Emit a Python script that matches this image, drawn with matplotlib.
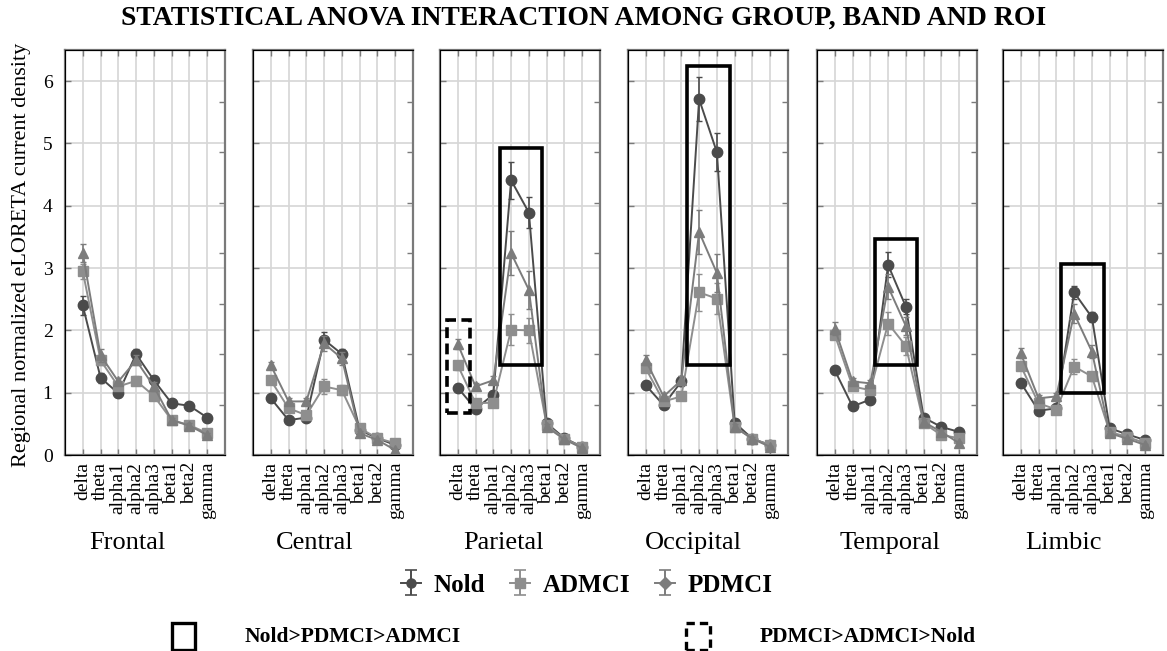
import matplotlib
matplotlib.use('Agg')
import matplotlib.pyplot as plt
from matplotlib.patches import Rectangle

plt.rcParams['font.family'] = ['Liberation Serif', 'DejaVu Serif']

bands = ['delta', 'theta', 'alpha1', 'alpha2', 'alpha3', 'beta1', 'beta2', 'gamma']
regions = ['Frontal', 'Central', 'Parietal', 'Occipital', 'Temporal', 'Limbic']
groups = ['Nold', 'ADMCI', 'PDMCI']

# mean values per region and group
frontal_nold = [2.40, 1.24, 0.99, 1.62, 1.20, 0.83, 0.79, 0.60]
frontal_admci = [2.95, 1.52, 1.10, 1.19, 0.95, 0.56, 0.48, 0.35]
frontal_pdmci = [3.24, 1.60, 1.18, 1.52, 1.10, 0.56, 0.47, 0.32]
central_nold = [0.91, 0.56, 0.60, 1.85, 1.62, 0.40, 0.27, 0.16]
central_admci = [1.20, 0.75, 0.64, 1.10, 1.04, 0.43, 0.27, 0.19]
central_pdmci = [1.44, 0.86, 0.86, 1.79, 1.55, 0.35, 0.24, 0.08]
parietal_nold = [1.08, 0.74, 0.97, 4.41, 3.89, 0.51, 0.27, 0.13]
parietal_admci = [1.44, 0.83, 0.84, 2.01, 2.00, 0.48, 0.26, 0.13]
parietal_pdmci = [1.78, 1.10, 1.20, 3.24, 2.65, 0.45, 0.25, 0.11]
occipital_nold = [1.12, 0.80, 1.18, 5.71, 4.86, 0.52, 0.26, 0.16]
occipital_admci = [1.39, 0.86, 0.94, 2.61, 2.51, 0.45, 0.26, 0.16]
occipital_pdmci = [1.52, 0.94, 1.20, 3.58, 2.92, 0.45, 0.26, 0.13]
temporal_nold = [1.36, 0.78, 0.89, 3.05, 2.38, 0.60, 0.45, 0.37]
temporal_admci = [1.93, 1.10, 1.04, 2.11, 1.75, 0.51, 0.32, 0.27]
temporal_pdmci = [2.03, 1.18, 1.15, 2.70, 2.07, 0.53, 0.37, 0.19]
limbic_nold = [1.16, 0.71, 0.75, 2.61, 2.21, 0.43, 0.33, 0.24]
limbic_admci = [1.43, 0.83, 0.73, 1.42, 1.26, 0.37, 0.29, 0.19]
limbic_pdmci = [1.63, 0.91, 0.94, 2.27, 1.66, 0.35, 0.26, 0.16]

# error bar half-lengths
frontal_nold_err = [0.15, 0.08, 0.06, 0.08, 0.07, 0.05, 0.05, 0.04]
frontal_admci_err = [0.12, 0.08, 0.06, 0.07, 0.06, 0.04, 0.04, 0.03]
frontal_pdmci_err = [0.15, 0.10, 0.06, 0.08, 0.07, 0.04, 0.04, 0.03]
central_nold_err = [0.06, 0.04, 0.04, 0.12, 0.08, 0.04, 0.03, 0.02]
central_admci_err = [0.06, 0.04, 0.05, 0.12, 0.08, 0.03, 0.03, 0.02]
central_pdmci_err = [0.06, 0.05, 0.05, 0.12, 0.10, 0.03, 0.03, 0.02]
parietal_nold_err = [0.06, 0.04, 0.06, 0.30, 0.25, 0.04, 0.03, 0.02]
parietal_admci_err = [0.07, 0.05, 0.05, 0.25, 0.20, 0.04, 0.03, 0.02]
parietal_pdmci_err = [0.08, 0.05, 0.06, 0.35, 0.30, 0.04, 0.03, 0.02]
occipital_nold_err = [0.06, 0.04, 0.08, 0.35, 0.30, 0.05, 0.03, 0.02]
occipital_admci_err = [0.06, 0.05, 0.06, 0.30, 0.25, 0.04, 0.03, 0.02]
occipital_pdmci_err = [0.08, 0.05, 0.07, 0.35, 0.30, 0.04, 0.03, 0.02]
temporal_nold_err = [0.06, 0.04, 0.05, 0.20, 0.12, 0.04, 0.03, 0.02]
temporal_admci_err = [0.07, 0.05, 0.05, 0.18, 0.15, 0.04, 0.03, 0.02]
temporal_pdmci_err = [0.10, 0.06, 0.06, 0.20, 0.15, 0.04, 0.03, 0.02]
limbic_nold_err = [0.05, 0.04, 0.04, 0.10, 0.08, 0.03, 0.03, 0.02]
limbic_admci_err = [0.06, 0.04, 0.04, 0.12, 0.08, 0.03, 0.03, 0.02]
limbic_pdmci_err = [0.08, 0.05, 0.05, 0.15, 0.10, 0.03, 0.03, 0.02]

values = {
    'Frontal': (frontal_nold, frontal_admci, frontal_pdmci),
    'Central': (central_nold, central_admci, central_pdmci),
    'Parietal': (parietal_nold, parietal_admci, parietal_pdmci),
    'Occipital': (occipital_nold, occipital_admci, occipital_pdmci),
    'Temporal': (temporal_nold, temporal_admci, temporal_pdmci),
    'Limbic': (limbic_nold, limbic_admci, limbic_pdmci),
}
errors = {
    'Frontal': (frontal_nold_err, frontal_admci_err, frontal_pdmci_err),
    'Central': (central_nold_err, central_admci_err, central_pdmci_err),
    'Parietal': (parietal_nold_err, parietal_admci_err, parietal_pdmci_err),
    'Occipital': (occipital_nold_err, occipital_admci_err, occipital_pdmci_err),
    'Temporal': (temporal_nold_err, temporal_admci_err, temporal_pdmci_err),
    'Limbic': (limbic_nold_err, limbic_admci_err, limbic_pdmci_err),
}

# highlight boxes (x0, y0, x1, y1) in data units
solid_boxes = {
    'Parietal': (2.38, 1.44, 4.74, 4.92),
    'Occipital': (2.34, 1.44, 4.72, 6.24),
    'Temporal': (2.28, 1.44, 4.64, 3.47),
    'Limbic': (2.25, 1.00, 4.66, 3.06),
}
dashed_boxes = {
    'Parietal': (-0.60, 0.68, 0.68, 2.17),
}

styles = [
    dict(color='#4b4b4b', marker='o', ms=7.5),
    dict(color='#8e8e8e', marker='s', ms=7),
    dict(color='#7c7c7c', marker='^', ms=7.5),
]

W, H = 1167, 651
fig = plt.figure(figsize=(W / 100, H / 100), dpi=100)
fig.patch.set_facecolor('white')

lefts = [65, 253, 440, 628, 817, 1003]
label_x = [127, 315, 503, 693, 890, 1063]
x = list(range(len(bands)))

for i, reg in enumerate(regions):
    ax = fig.add_axes([lefts[i] / W, 1 - 455 / H, 160 / W, 405 / H])
    ax.set_xlim(-1, 8)
    ax.set_ylim(0, 6.5)
    ax.set_xticks(x)
    ax.set_xticklabels(bands, rotation=90, fontsize=14)
    ax.set_yticks(range(7))
    ax.grid(True, color='#d6d6d6', lw=1.2)
    ax.set_axisbelow(True)
    for s in ax.spines.values():
        s.set_color('#7a7a7a')
        s.set_linewidth(1.6)
    ax.tick_params(axis='x', direction='in', length=4, pad=5, top=True,
                   color='#7a7a7a', width=1)
    ax.tick_params(axis='y', direction='in', length=4, pad=9, labelsize=14,
                   color='#7a7a7a', width=1, labelleft=(i == 0))
    tw = ax.twinx()
    tw.set_ylim(0, 6.5 / 0.81)
    tw.set_yticks(range(1, 8))
    tw.tick_params(axis='y', direction='in', length=4, labelright=False,
                   color='#7a7a7a', width=1)
    tw.spines['right'].set_visible(False)
    for g in range(3):
        st = styles[g]
        ax.errorbar(x, values[reg][g], yerr=errors[reg][g], color=st['color'],
                    marker=st['marker'], ms=st['ms'], lw=1.4, elinewidth=1.2,
                    capsize=2, capthick=1, zorder=3 + g)
    if reg in solid_boxes:
        x0, y0, x1, y1 = solid_boxes[reg]
        ax.add_patch(Rectangle((x0, y0), x1 - x0, y1 - y0, fill=False,
                               ec='black', lw=2.6, zorder=10))
    if reg in dashed_boxes:
        x0, y0, x1, y1 = dashed_boxes[reg]
        ax.add_patch(Rectangle((x0, y0), x1 - x0, y1 - y0, fill=False,
                               ec='black', lw=2.6, ls=(0, (3, 1.5)), zorder=10))
    fig.text(label_x[i] / W, 1 - 543 / H, reg, fontsize=19, ha='center', va='center')

fig.text(0.5, 1 - 18 / H, 'STATISTICAL ANOVA INTERACTION AMONG GROUP, BAND AND ROI',
         fontsize=20, fontweight='bold', ha='center', va='center')
fig.text(22 / W, 1 - 255 / H, 'Regional normalized eLORETA current density',
         rotation=90, fontsize=16, ha='center', va='center')

# group legend (proxy artists on an axes placed outside the figure)
hax = fig.add_axes([-1, -1, 0.01, 0.01])
hax.set_axis_off()
leg_markers = ['o', 's', 'D']
handles = []
for g in range(3):
    h = hax.errorbar([0], [0], yerr=[1], color=styles[g]['color'], marker=leg_markers[g],
                     ms=6.5, lw=1.4, capsize=4.5, capthick=1.2)
    handles.append(h)
fig.legend(handles, groups, loc='center', bbox_to_anchor=(0.503, 1 - 585 / H), ncol=3,
           frameon=False, prop={'weight': 'bold', 'size': 18}, handlelength=0.8,
           handletextpad=0.5, columnspacing=1.0)

# box legend
fig.patches.append(Rectangle((172 / W, 1 - 650 / H), 23 / W, 27 / H, fill=False,
                             ec='black', lw=2.4, transform=fig.transFigure))
fig.text(245 / W, 1 - 637 / H, 'Nold>PDMCI>ADMCI', fontsize=15.5, fontweight='bold',
         ha='left', va='center')
fig.patches.append(Rectangle((686 / W, 1 - 650 / H), 24 / W, 27 / H, fill=False,
                             ec='black', lw=2.4, ls=(0, (2.5, 1.5)),
                             transform=fig.transFigure))
fig.text(760 / W, 1 - 637 / H, 'PDMCI>ADMCI>Nold', fontsize=15.5, fontweight='bold',
         ha='left', va='center')

fig.savefig('out.png', dpi=100)
